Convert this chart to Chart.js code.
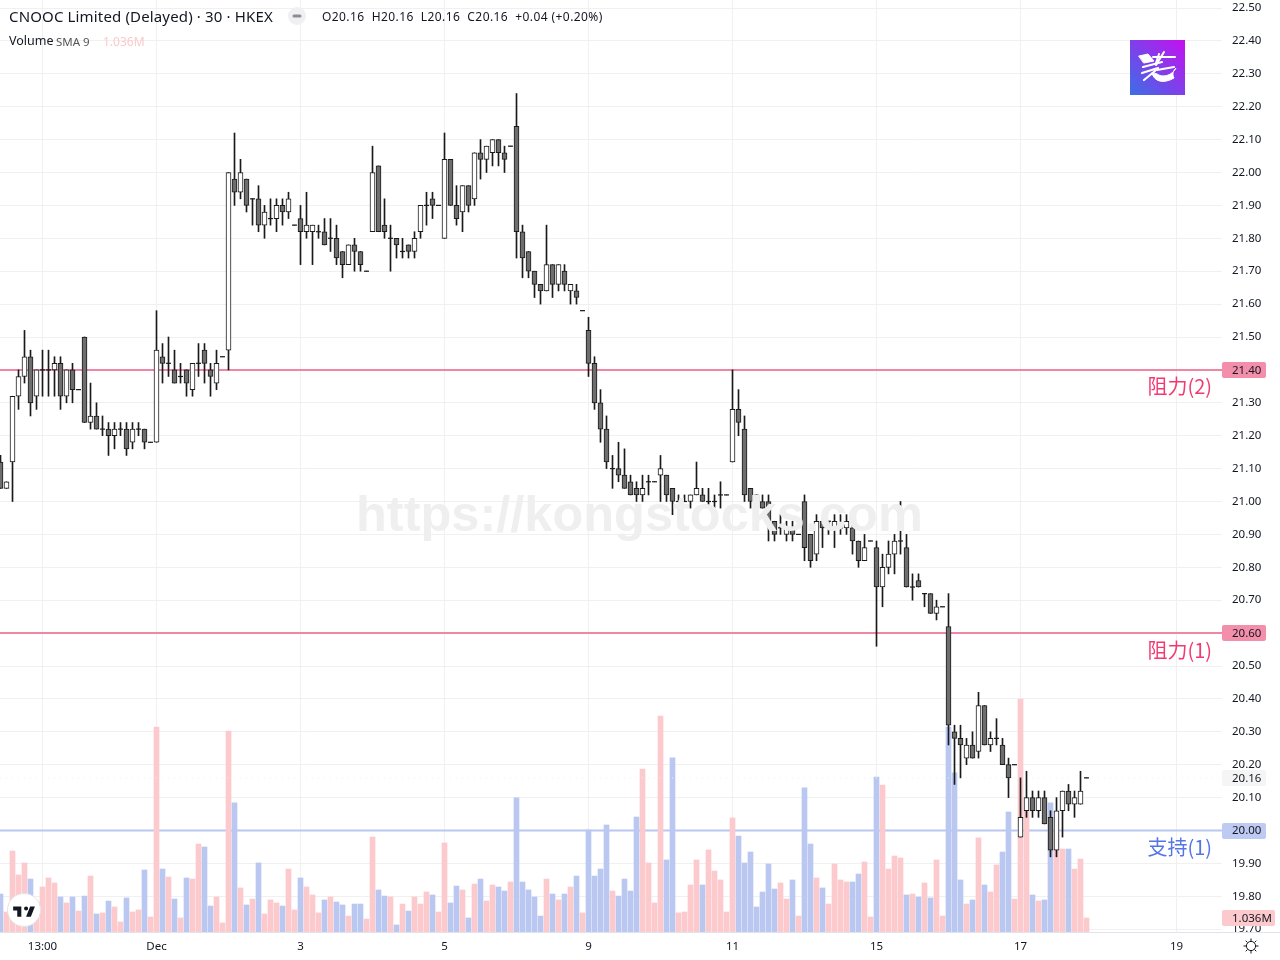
<!DOCTYPE html>
<html lang="en">
<head>
<meta charset="utf-8">
<title>CNOOC Limited (Delayed) 30 HKEX</title>
<script src="https://cdn.jsdelivr.net/npm/chart.js@4/dist/chart.umd.js"></script>
<style>
html,body{margin:0;padding:0;background:#fff;width:1280px;height:960px;overflow:hidden}
#wrap{position:relative;width:1280px;height:960px}
canvas{position:absolute;left:0;top:0}
.t{position:absolute;white-space:nowrap;color:#131722;font-family:"Noto Sans",sans-serif;line-height:1}
</style>
</head>
<body>
<div id="wrap">
<canvas id="c" width="1280" height="960"></canvas>
<div class="t" style="left:9px;top:9px;font-size:15px;letter-spacing:.15px">CNOOC Limited (Delayed) · 30 · HKEX</div>
<svg style="position:absolute;left:288px;top:7px" width="18" height="18"><circle cx="9" cy="9" r="9" fill="#f0f0f2"/><rect x="4.5" y="7.5" width="9" height="3" rx="1.5" fill="#8a8e99"/></svg>
<div class="t" style="left:322px;top:11px;font-size:12px;letter-spacing:.42px">O20.16&nbsp; H20.16&nbsp; L20.16&nbsp; C20.16&nbsp; +0.04 (+0.20%)</div>
<div class="t" style="left:9px;top:35px;font-size:12.5px">Volume</div>
<div class="t" style="left:56px;top:36px;font-size:11.5px;color:#555">SMA 9</div>
<div class="t" style="left:103px;top:36px;font-size:12px;color:#fcc9cc">1.036M</div>
<svg style="position:absolute;left:1130px;top:40px" width="55" height="55" viewBox="0 0 55 55">
<defs><linearGradient id="g" x1="0" y1="1" x2="1" y2="0"><stop offset="0" stop-color="#3a6fe6"/><stop offset="1" stop-color="#c60fef"/></linearGradient></defs>
<rect width="55" height="55" fill="url(#g)"/>
<g stroke="#fff" fill="none" stroke-linecap="round">
<path d="M9 16 L18 14 L24 21 L14 23 Z" fill="#fff" stroke-width="1"/>
<path d="M34 12 L26 25 M23 17 L45 17 M29 14 L26 23" stroke-width="2"/>
<path d="M13 27 L32 22 M12 33 L28 28 M14 40 L25 31 M27 30 L44 27" stroke-width="2.2"/>
<path d="M22 33 C24 42 34 44 44 38 C42 34 43 31 46 28 C42 36 32 38 27 34 Z" fill="#fff" stroke-width="1"/>
</g>
</svg>
<svg style="position:absolute;left:5px;top:890px;overflow:visible" width="38" height="38">
<circle cx="19" cy="20" r="16.5" fill="#fff" stroke="#e3e4e8" stroke-width="1"/>
<g transform="translate(6.8,12.4) scale(.68)"><path fill="#131722" d="M14 6H2v6h6v9h6V6zm14 15h-7l6-15h7l-6 15zm-7-9a3 3 0 1 0 0-6 3 3 0 0 0 0 6z"/></g>
</svg>
<svg style="position:absolute;left:1243px;top:938px" width="16" height="16" viewBox="0 0 16 16">
<circle cx="8" cy="8" r="4.6" fill="none" stroke="#131722" stroke-width="1"/>
<path d="M8 .5V3M8 13v2.5M.5 8H3M13 8h2.5M2.7 2.7l1.8 1.8M11.5 11.5l1.8 1.8M2.7 13.3l1.8-1.8M11.5 4.5l1.8-1.8" stroke="#131722" stroke-width="1"/>
</svg>
</div>
<script>
const open = [
21.12,21.04,21.12,21.32,21.38,21.44,21.32,21.40,21.40,21.40,
21.42,21.32,21.40,21.34,21.50,21.24,21.26,21.22,21.22,21.20,
21.22,21.22,21.18,21.22,21.22,21.18,21.18,21.44,21.42,21.40,
21.38,21.40,21.34,21.42,21.46,21.40,21.36,21.44,21.46,21.98,
21.94,21.98,21.92,21.92,21.84,21.86,21.86,21.90,21.88,21.84,
21.86,21.82,21.82,21.82,21.82,21.80,21.80,21.76,21.72,21.78,
21.76,21.70,21.82,22.02,21.84,21.80,21.80,21.76,21.78,21.76,
21.82,21.90,21.92,21.90,21.80,22.04,21.90,21.88,21.96,21.92,
22.06,22.04,22.06,22.10,22.06,22.08,22.14,21.82,21.76,21.70,
21.66,21.64,21.72,21.66,21.70,21.64,21.64,21.58,21.52,21.42,
21.30,21.22,21.10,21.10,21.08,21.06,21.04,21.02,21.06,21.06,
21.08,21.08,21.04,21.00,21.00,21.00,21.02,21.02,21.00,21.00,
21.02,21.02,21.12,21.28,21.22,21.04,21.02,21.00,21.00,20.94,
20.92,20.90,20.92,20.90,21.00,20.90,20.84,20.94,20.94,20.92,
20.92,20.92,20.92,20.88,20.82,20.88,20.86,20.74,20.80,20.84,
20.88,20.86,20.74,20.76,20.72,20.72,20.66,20.68,20.62,20.30,
20.28,20.22,20.26,20.24,20.38,20.26,20.28,20.26,20.20,20.20,
19.98,20.06,20.10,20.06,20.10,20.04,19.94,20.06,20.12,20.08,
20.08,20.16];
const high = [
21.14,21.06,21.32,21.40,21.52,21.46,21.40,21.46,21.46,21.44,
21.44,21.40,21.42,21.34,21.50,21.36,21.30,21.26,21.24,21.24,
21.24,21.24,21.24,21.24,21.22,21.18,21.58,21.48,21.50,21.46,
21.42,21.40,21.42,21.48,21.48,21.42,21.46,21.44,22.00,22.12,
22.04,21.98,21.92,21.96,21.90,21.92,21.92,21.92,21.94,21.84,
21.90,21.94,21.84,21.84,21.86,21.86,21.84,21.76,21.78,21.80,
21.76,21.70,22.08,22.02,21.92,21.84,21.80,21.80,21.78,21.82,
21.90,21.94,21.94,21.90,22.12,22.04,21.96,21.96,21.96,22.06,
22.10,22.08,22.10,22.10,22.08,22.08,22.24,21.84,21.76,21.70,
21.66,21.84,21.72,21.72,21.72,21.66,21.66,21.58,21.56,21.44,
21.34,21.26,21.14,21.18,21.16,21.08,21.06,21.08,21.08,21.06,
21.14,21.08,21.04,21.02,21.02,21.02,21.12,21.04,21.04,21.02,
21.06,21.02,21.40,21.34,21.26,21.04,21.02,21.02,21.02,20.94,
20.96,20.94,20.94,20.90,21.02,20.90,20.96,20.94,20.94,20.96,
20.96,20.96,20.94,20.88,20.90,20.88,20.88,20.84,20.88,20.90,
21.00,20.90,20.78,20.78,20.72,20.72,20.70,20.68,20.72,20.32,
20.32,20.28,20.30,20.42,20.38,20.30,20.34,20.28,20.22,20.20,
20.16,20.18,20.12,20.12,20.12,20.06,20.10,20.12,20.14,20.12,
20.18,20.16];
const low = [
21.04,21.04,21.00,21.28,21.36,21.26,21.28,21.32,21.32,21.32,
21.28,21.30,21.30,21.34,21.24,21.22,21.22,21.20,21.14,21.16,
21.20,21.14,21.16,21.20,21.16,21.18,21.18,21.36,21.38,21.36,
21.36,21.32,21.32,21.38,21.36,21.32,21.34,21.44,21.40,21.90,
21.92,21.88,21.84,21.82,21.80,21.84,21.82,21.84,21.86,21.84,
21.72,21.80,21.72,21.80,21.78,21.76,21.72,21.68,21.72,21.70,
21.70,21.70,21.82,21.82,21.80,21.70,21.74,21.74,21.74,21.74,
21.80,21.84,21.86,21.90,21.80,21.90,21.84,21.82,21.88,21.90,
21.98,22.00,22.02,22.02,22.00,22.08,21.74,21.68,21.68,21.62,
21.60,21.64,21.62,21.64,21.64,21.60,21.60,21.58,21.38,21.28,
21.18,21.10,21.04,21.06,21.04,21.02,21.00,21.00,21.02,21.06,
21.00,21.00,20.96,21.00,21.00,20.98,21.02,21.00,20.98,20.98,
20.98,21.02,21.12,21.20,21.00,20.98,21.00,20.98,20.88,20.88,
20.90,20.88,20.88,20.90,20.82,20.80,20.82,20.86,20.90,20.86,
20.90,20.90,20.84,20.80,20.82,20.88,20.56,20.68,20.78,20.78,
20.84,20.74,20.70,20.74,20.68,20.66,20.64,20.68,20.26,20.14,
20.16,20.20,20.22,20.22,20.26,20.24,20.26,20.20,20.10,20.20,
19.98,20.04,20.04,20.04,20.02,19.92,19.92,19.98,20.06,20.04,
20.08,20.16];
const close = [
21.04,21.06,21.32,21.38,21.44,21.30,21.40,21.40,21.40,21.42,
21.32,21.40,21.34,21.34,21.24,21.26,21.22,21.22,21.20,21.22,
21.22,21.16,21.22,21.22,21.18,21.18,21.46,21.42,21.42,21.36,
21.38,21.36,21.42,21.42,21.42,21.38,21.42,21.44,22.00,21.94,
22.00,21.90,21.92,21.84,21.88,21.86,21.90,21.88,21.92,21.84,
21.82,21.84,21.84,21.82,21.78,21.80,21.74,21.72,21.78,21.76,
21.72,21.70,22.00,21.82,21.82,21.80,21.78,21.76,21.76,21.80,
21.90,21.90,21.90,21.90,22.04,21.90,21.86,21.96,21.90,22.06,
22.04,22.08,22.10,22.06,22.04,22.08,21.82,21.74,21.70,21.66,
21.64,21.72,21.66,21.72,21.66,21.66,21.62,21.58,21.42,21.30,
21.22,21.12,21.10,21.08,21.04,21.02,21.02,21.04,21.06,21.06,
21.10,21.02,21.00,21.00,21.00,21.02,21.04,21.00,21.00,21.00,
21.02,21.02,21.28,21.24,21.02,21.00,21.00,20.98,20.94,20.90,
20.92,20.92,20.90,20.90,20.86,20.82,20.94,20.92,20.94,20.94,
20.92,20.94,20.88,20.82,20.86,20.88,20.74,20.80,20.84,20.88,
20.88,20.74,20.74,20.74,20.72,20.66,20.68,20.68,20.32,20.28,
20.26,20.26,20.22,20.38,20.26,20.28,20.28,20.20,20.16,20.20,
20.04,20.10,20.06,20.10,20.02,19.94,20.06,20.12,20.08,20.10,
20.12,20.16];
const volumeM = [
2.81,1.48,5.99,4.22,5.11,3.92,2.22,3.33,4.00,3.63,
2.59,2.15,2.59,1.55,2.66,4.14,1.33,1.41,2.29,1.85,
0.74,2.52,1.48,1.63,4.59,1.11,15.17,4.66,4.07,2.44,
1.04,4.00,3.92,6.51,6.29,1.92,2.59,0.67,14.87,9.55,
3.26,2.00,2.44,5.11,1.33,2.37,2.15,1.92,4.66,1.63,
4.00,3.33,2.74,1.41,2.37,2.59,2.22,2.00,1.18,2.07,
2.07,0.96,7.03,3.11,2.66,2.59,0.52,2.07,1.55,2.59,
2.07,2.96,2.74,1.48,6.59,2.15,3.40,3.11,1.04,3.55,
3.92,2.29,3.48,3.33,3.03,3.70,9.92,3.70,3.11,2.59,
1.18,3.92,2.81,2.37,2.81,3.33,4.14,1.41,7.55,4.14,
4.66,7.92,3.03,2.66,3.92,3.03,8.51,12.06,5.11,2.15,
15.98,5.33,12.88,1.41,1.48,3.48,5.33,3.48,6.07,4.51,
3.85,1.48,8.44,7.10,5.11,5.92,1.85,2.96,5.03,3.18,
3.63,2.44,3.85,1.18,10.66,6.51,4.00,3.26,2.07,5.03,
3.85,3.70,3.70,4.29,5.18,1.11,11.47,10.88,4.66,5.62,
5.48,2.74,2.81,2.59,3.63,2.52,5.33,1.18,15.17,11.77,
3.85,2.07,2.37,6.96,3.48,2.96,4.96,5.92,8.88,2.44,
17.24,8.95,2.74,2.29,2.37,9.55,7.40,6.14,6.14,4.66,
5.40,1.036];

const dateTickBars = [7,26,50,74,98,122,146,170,196];
const dateTickLabels = ['13:00','Dec','3','5','9','11','15','17','19'];
const priceTicks = [19.7,19.8,19.9,20.0,20.1,20.2,20.3,20.4,20.5,20.6,20.7,20.8,20.9,21.0,21.1,21.2,21.3,21.4,21.5,21.6,21.7,21.8,21.9,22.0,22.1,22.2,22.3,22.4,22.5];
const levelPrices = [21.40,20.60,20.00];
const levelNames = ['阻力(2)','阻力(1)','支持(1)'];
const levelLineColors = ['#ef86a4','#ef86a4','#bac7f1'];
const levelTextColors = ['#f23a72','#f23a72','#5575e6'];
const levelTagColors = ['#f48fab','#f48fab','#bfcaf3'];
const lastPrice = 20.16;
const lastVolumeLabel = '1.036M';

const xMin = -1/12, xMax = xMin + 1222/6;
const yMax = 22.5 + 8/329, yMin = 22.5 - 924/329;
const volMax = 932 * 0.074;
const idx = open.map((_, i) => i);
const isUp = i => close[i] >= open[i];

const levelSets = levelPrices.map((p, n) => ({
  type:'line', yAxisID:'y', order:6, borderColor:levelLineColors[n], borderWidth:2,
  pointRadius:0, data:[{x:xMin,y:p},{x:xMax,y:p}]
}));

const decor = {
  id:'decor',
  afterDatasetsDraw(ch){
    const c = ch.ctx;
    c.save();
    c.fillStyle = '#efefef';
    c.font = 'bold 50.5px "Liberation Sans"';
    c.textAlign = 'left'; c.textBaseline = 'alphabetic';
    c.fillText('https://kongstocks.com', 356, 531);
    c.restore();
  },
  afterDraw(ch){
    const c = ch.ctx, ys = ch.scales.y, yv = ch.scales.y1;
    c.save();
    c.fillStyle = '#fff'; c.fillRect(1222, 932, 58, 28);
    c.fillStyle = '#e0e3eb'; c.fillRect(0, 932, 1280, 1);
    const tag = (yc, w, bg, text) => {
      c.fillStyle = bg;
      c.beginPath(); c.roundRect(1222, Math.round(yc) - 8, w, 16, 2); c.fill();
      c.fillStyle = '#131722';
      c.font = '11.5px "Noto Sans"'; c.textAlign = 'left'; c.textBaseline = 'middle';
      c.fillText(text, 1232, yc + 0.7);
    };
    levelPrices.forEach((p, n) => {
      const yp = ys.getPixelForValue(p);
      tag(yp, 44, levelTagColors[n], p.toFixed(2));
      c.fillStyle = levelTextColors[n];
      c.font = '20px "Noto Sans CJK SC"'; c.textAlign = 'right'; c.textBaseline = 'middle';
      c.fillText(levelNames[n], 1212, yp + 17);
    });
    tag(ys.getPixelForValue(lastPrice), 44, '#f5f5f5', lastPrice.toFixed(2));
    tag(yv.getPixelForValue(volumeM[volumeM.length - 1]), 53, '#fcc9cc', lastVolumeLabel);
    c.restore();
  }
};

new Chart(document.getElementById('c'), {
  type:'bar',
  plugins:[decor],
  data:{ datasets:[
    ...levelSets,
    { type:'bar', label:'Volume', yAxisID:'y1', order:5, barThickness:5, grouped:false,
      backgroundColor: idx.map(i => isUp(i) ? '#fcc9cc' : '#b9c7f1'),
      data: idx.map(i => ({x:i, y:volumeM[i]})) },
    { type:'line', yAxisID:'y', order:4, borderColor:'#f0f0f4', borderWidth:1, borderDash:[1,5],
      pointRadius:0, data:[{x:xMin,y:lastPrice},{x:xMax,y:lastPrice}] },
    { type:'bar', label:'Wick', yAxisID:'y', order:3, barThickness:1, grouped:false,
      backgroundColor:'#1a1a1a',
      data: idx.map(i => ({x:i, y:[low[i], high[i]]})) },
    { type:'bar', label:'Body', yAxisID:'y', order:2, barThickness:5, grouped:false,
      backgroundColor: idx.map(i => isUp(i) ? '#ffffff' : '#6e6e6e'),
      borderColor:'#1a1a1a', borderWidth:1, borderSkipped:false,
      data: idx.map(i => ({x:i, y:open[i] !== close[i] ? [open[i], close[i]] : null})) },
    { type:'scatter', label:'Doji', yAxisID:'y', order:1, showLine:false,
      pointStyle:'line', pointRadius:2.5, pointBorderWidth:1.2, pointBorderColor:'#1a1a1a', borderColor:'#1a1a1a',
      data: idx.filter(i => open[i] === close[i]).map(i => ({x:i, y:close[i]})) }
  ]},
  options:{
    responsive:false, animation:false, devicePixelRatio:1,
    layout:{padding:0, autoPadding:false},
    events:[],
    plugins:{legend:{display:false}, tooltip:{enabled:false}},
    scales:{
      x:{
        type:'linear', min:xMin, max:xMax, offset:false,
        grid:{color:'#f0f0f3', lineWidth:1, drawTicks:false, offset:false},
        border:{display:false},
        afterBuildTicks(s){ s.ticks = dateTickBars.map(v => ({value:v})); },
        afterFit(s){ s.height = 28; s.paddingLeft = 0; s.paddingRight = 0; },
        ticks:{ autoSkip:false, maxRotation:0, padding:8, color:'#131722',
          font:{family:'"Noto Sans"', size:11.5},
          callback(v){ return dateTickLabels[dateTickBars.indexOf(v)]; } }
      },
      y:{
        position:'right', min:yMin, max:yMax,
        grid:{color:'#f0f0f1', lineWidth:1, drawTicks:false},
        border:{display:false},
        afterBuildTicks(s){ s.ticks = priceTicks.map(v => ({value:v})); },
        afterFit(s){ s.width = 58; s.paddingTop = 0; s.paddingBottom = 0; },
        ticks:{ autoSkip:false, padding:10, color:'#131722',
          font:{family:'"Noto Sans"', size:11.5},
          callback(v){ return v.toFixed(2); } }
      },
      y1:{ display:false, min:0, max:volMax }
    }
  }
});
</script>
</body>
</html>
